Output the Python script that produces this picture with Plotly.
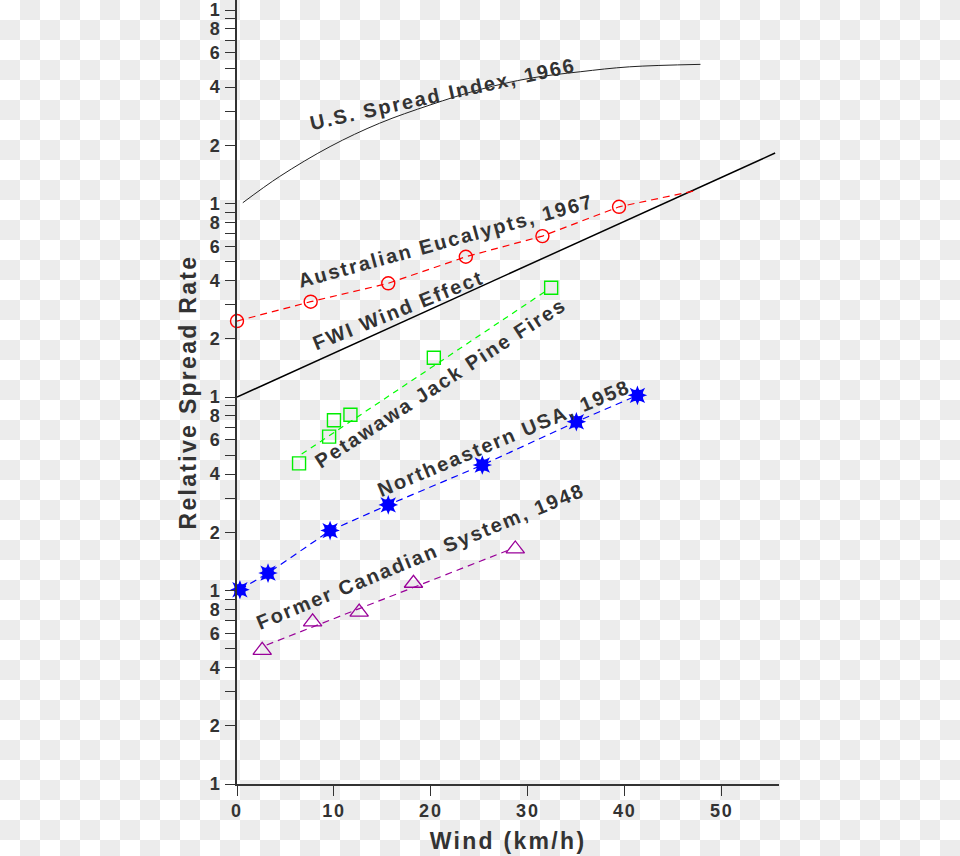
import plotly.graph_objects as go

# ---------------- data ----------------
us_x = [0.6, 4.4, 9.6, 14.7, 19.9, 25.1, 30.2, 35.4, 40.5, 47.8]
us_y = [1010, 1380, 1970, 2600, 3230, 3890, 4440, 4800, 5090, 5240]

fwi_x = [0, 55.5]
fwi_y = [100, 1824]

aus_x = [0, 7.6, 15.6, 23.6, 31.5, 39.4]
aus_y = [247, 311, 387, 531, 679, 962]
aus_line_x = [0, 7.6, 15.6, 23.6, 31.5, 39.4, 47.2]
aus_line_y = [247, 311, 387, 531, 679, 962, 1164]

pet_x = [6.4, 9.5, 10.0, 11.7, 20.3, 32.4]
pet_y = [45.4, 62.4, 75.8, 81.0, 159.7, 367]
pet_fit_x = [6.67, 31.9]
pet_fit_y = [50.7, 354]

ne_x = [0.3, 3.2, 9.6, 15.6, 25.3, 35.0, 41.3]
ne_y = [10.1, 12.3, 20.4, 27.7, 44.5, 74.5, 102]

can_x = [2.6, 7.8, 12.6, 18.2, 28.7]
can_y = [4.91, 6.88, 7.74, 10.9, 16.4]
can_fit_x = [3.06, 27.9]
can_fit_y = [5.23, 16.1]

labels = ["U.S. Spread Index, 1966", "Australian Eucalypts, 1967", "FWI Wind Effect",
          "Petawawa Jack Pine Fires", "Northeastern USA, 1958", "Former Canadian System, 1948"]

x_ticks = [0, 10, 20, 30, 40, 50]
y_tick_vals = [k * 10 ** d for d in range(4) for k in range(1, 10)] + [10000]
y_tick_text = [str(k) if k in (1, 2, 4, 6, 8) else "" for d in range(4) for k in range(1, 10)] + ["1"]

# ---------------- figure ----------------
TXT = "#333333"
FONT = "Liberation Sans, Arial, sans-serif"
W, H = 960, 856
PX0, PX1, PY_TOP, PY_BOT = 237, 779, 0, 784   # plot area in pixels

fig = go.Figure()

# checkerboard backdrop (transparent-image look) on a full-figure helper axis pair
ncol, nrow = W // 20, H // 20 + 1
checker = [[(r + c) % 2 for c in range(ncol)] for r in range(nrow)]
fig.add_trace(go.Heatmap(z=checker, colorscale=[[0, "#ffffff"], [1, "#ececec"]], showscale=False,
                         hoverinfo="skip", xaxis="x", yaxis="y", zsmooth=False, xgap=0, ygap=0))

kw = dict(xaxis="x2", yaxis="y2", showlegend=False, cliponaxis=False)
fig.add_trace(go.Scatter(x=us_x, y=us_y, mode="lines", line=dict(color="#222222", width=1, shape="spline"), **kw))
fig.add_trace(go.Scatter(x=fwi_x, y=fwi_y, mode="lines", line=dict(color="#000000", width=1.5), **kw))

fig.add_trace(go.Scatter(x=aus_line_x, y=aus_line_y, mode="lines",
                         line=dict(color="#ff0000", width=1.2, dash="7px,5px"), **kw))
fig.add_trace(go.Scatter(x=aus_x, y=aus_y, mode="markers",
                         marker=dict(symbol="circle-open", size=13, color="#ff0000", line=dict(width=1.4)), **kw))

fig.add_trace(go.Scatter(x=pet_fit_x, y=pet_fit_y, mode="lines",
                         line=dict(color="#00ff00", width=1.2, dash="6px,5px"), **kw))
fig.add_trace(go.Scatter(x=pet_x, y=pet_y, mode="markers",
                         marker=dict(symbol="square-open", size=13, color="#00ee00", line=dict(width=1.4)), **kw))

fig.add_trace(go.Scatter(x=ne_x, y=ne_y, mode="lines",
                         line=dict(color="#0000ff", width=1.2, dash="7px,5px"), **kw))
for sym in ("star-square", "star-diamond"):
    fig.add_trace(go.Scatter(x=ne_x, y=ne_y, mode="markers",
                             marker=dict(symbol=sym, size=14, color="#0000ff", line=dict(width=0)), **kw))

fig.add_trace(go.Scatter(x=can_fit_x, y=can_fit_y, mode="lines",
                         line=dict(color="#990099", width=1.2, dash="7px,5px"), **kw))
fig.add_trace(go.Scatter(x=can_x, y=can_y, mode="markers",
                         marker=dict(symbol="triangle-up-open", size=16, color="#990099", line=dict(width=1.3)), **kw))

# curve labels: (x data, y in log10 units, angle)
pos = [(21.21, 3.565, -12.5), (21.50, 2.809, -15.3), (16.65, 2.452, -21.9),
       (20.95, 2.075, -33.0), (27.55, 1.788, -22.8), (18.97, 1.179, -22.4)]
for text, (ax, ay, ang) in zip(labels, pos):
    fig.add_annotation(x=ax, y=ay, xref="x2", yref="y2", text=text, showarrow=False, textangle=ang,
                       font=dict(family=FONT, size=20, color=TXT, weight="bold"))

fig.update_layout(
    width=W, height=H, margin=dict(l=0, r=0, t=0, b=0, pad=0),
    paper_bgcolor="white", plot_bgcolor="rgba(0,0,0,0)",
    font=dict(family=FONT, color=TXT),
    xaxis=dict(domain=[0, 1], range=[-0.5, ncol - 0.5], visible=False, fixedrange=True),
    yaxis=dict(domain=[0, 1], range=[H / 20 - 0.5, -0.5], visible=False, fixedrange=True),
    xaxis2=dict(domain=[PX0 / W, PX1 / W], anchor="y2", range=[0, 55.9], tickvals=x_ticks,
                ticks="outside", ticklen=10, tickwidth=1.2, automargin=False,
                tickcolor=TXT, showline=True, linecolor=TXT, linewidth=1.5, showgrid=False, zeroline=False,
                tickfont=dict(family=FONT, size=18, color=TXT, weight="bold"),
                title=dict(text="Wind (km/h)", font=dict(family=FONT, size=23, color=TXT, weight="bold"),
                           standoff=13)),
    yaxis2=dict(domain=[1 - PY_BOT / H, 1 - PY_TOP / H], anchor="x2", type="log", range=[0, 4.052],
                tickvals=y_tick_vals, ticktext=y_tick_text, automargin=False,
                ticks="outside", ticklen=10, tickwidth=1.2, tickcolor=TXT, showline=True, linecolor=TXT,
                linewidth=1.5, showgrid=False, zeroline=False,
                tickfont=dict(family=FONT, size=18, color=TXT, weight="bold"),
                title=dict(text="Relative Spread Rate", font=dict(family=FONT, size=23, color=TXT, weight="bold"),
                           standoff=9)),
)

post = ("var s=document.createElement('style');"
        "s.innerHTML='.main-svg text{letter-spacing:0.1em}';"
        "document.head.appendChild(s);")
fig.write_html("out.html", post_script=post)
